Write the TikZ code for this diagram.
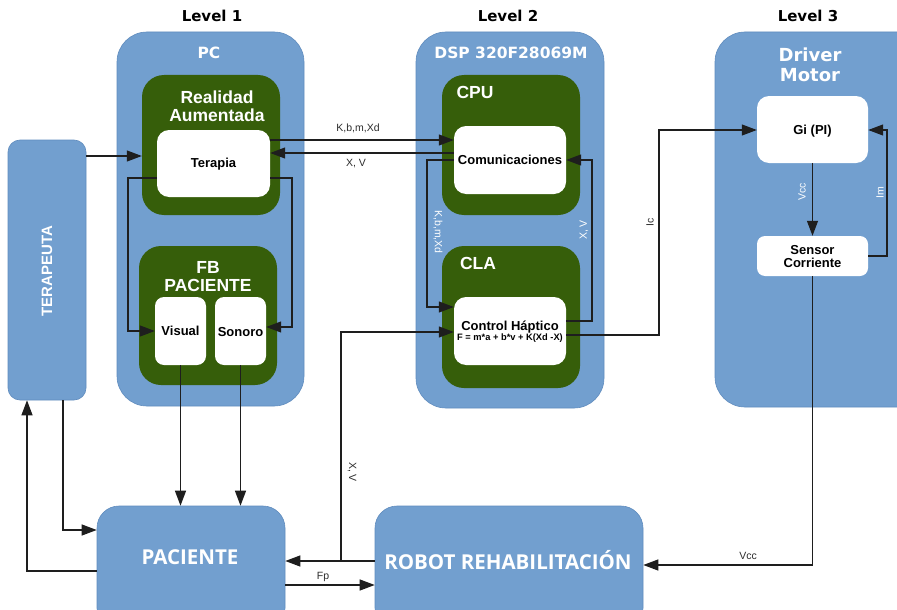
\documentclass[tikz,border=0pt]{standalone}
\usepackage{fontspec}
\setmainfont{Liberation Sans}
\newfontfamily\widefont{DejaVu Sans}
\newfontfamily\openfont{Open Sans}
\usetikzlibrary{arrows.meta}

\definecolor{panelblue}{RGB}{114,159,207}
\definecolor{paneledge}{RGB}{96,140,190}
\definecolor{leafgreen}{RGB}{54,94,10}
\definecolor{wire}{RGB}{30,30,30}
\definecolor{tagtext}{RGB}{45,45,45}

\begin{document}
\begin{tikzpicture}[x=1pt,y=-1pt,
  panel/.style={draw=paneledge, line width=0.6pt, fill=panelblue,
    rounded corners=#1, inner sep=0pt},
  panel/.default=28pt,
  group/.style={fill=leafgreen, rounded corners=22pt, inner sep=0pt},
  block/.style={fill=white, rounded corners=12pt, inner sep=0pt},
  leveltxt/.style={font=\widefont\bfseries\fontsize{15}{18}\selectfont, text=black},
  paneltitle/.style={font=\widefont\bfseries\fontsize{15.5}{19}\selectfont, text=white, align=center},
  grouptitle/.style={font=\bfseries\fontsize{17.5}{19}\selectfont, text=white, align=center},
  blocktxt/.style={font=\bfseries\fontsize{13}{13}\selectfont, text=black, align=center},
  bigtxt/.style={font=\openfont\bfseries\fontsize{20.5}{22}\selectfont, text=white},
  tag/.style={font=\fontsize{10.5}{11}\selectfont, text=tagtext, inner sep=1pt},
  wtag/.style={font=\fontsize{10.5}{11}\selectfont, text=white, inner sep=1pt},
  arr/.style={draw=wire, line width=1.2pt, -{Triangle[length=15pt,width=11pt]}},
]
\useasboundingbox (0,0) rectangle (897,610);
\clip (0,0) rectangle (897,610);
\fill[white] (0,0) rectangle (897,610);

% column headings
\node[leveltxt] (lv1) at (212,16) {Level 1};
\node[leveltxt] (lv2) at (508,16) {Level 2};
\node[leveltxt] (lv3) at (808,16) {Level 3};

% Level 1: PC
\node[panel=30pt, minimum width=187pt, minimum height=374pt] (pc) at (210.5,219) {};
\node[paneltitle] (pct) at (209,53) {PC};
\node[group, minimum width=138pt, minimum height=140pt] (ra) at (211,145) {};
\node[grouptitle] (rat) at (217,106) {Realidad\\[-1pt]Aumentada};
\node[block, minimum width=113pt, minimum height=67pt] (terapia) at (213.5,163.5) {};
\node[blocktxt] (terapiat) at (213.5,164) {Terapia};
\node[group, minimum width=138pt, minimum height=139pt] (fb) at (208,315.5) {};
\node[grouptitle] (fbt) at (208,277) {FB\\[-1pt]PACIENTE};
\node[block, rounded corners=9pt, minimum width=51pt, minimum height=68pt] (visual) at (180.5,331) {};
\node[blocktxt] (visualt) at (180.5,331) {Visual};
\node[block, rounded corners=9pt, minimum width=51pt, minimum height=68pt] (sonoro) at (240.5,331) {};
\node[blocktxt] (sonorot) at (240.5,332) {Sonoro};

% therapist
\node[panel=12pt, minimum width=78pt, minimum height=260pt] (terapeuta) at (47,270) {};
\node[font=\bfseries\fontsize{15}{15}\selectfont, text=white, rotate=90] (terapeutat) at (47,271) {TERAPEUTA};

% Level 2: DSP
\node[panel=30pt, minimum width=188pt, minimum height=376pt] (dsp) at (510,220) {};
\node[paneltitle] (dspt) at (511,53) {DSP 320F28069M};
\node[group, minimum width=138pt, minimum height=140pt] (cpu) at (511,145) {};
\node[grouptitle] (cput) at (475,92) {CPU};
\node[block, minimum width=112pt, minimum height=68pt] (comun) at (510,160) {};
\node[blocktxt] (comunt) at (510,160) {Comunicaciones};
\node[group, minimum width=138pt, minimum height=142pt] (cla) at (511,317) {};
\node[grouptitle] (clat) at (478,263) {CLA};
\node[block, minimum width=112pt, minimum height=68pt] (control) at (510,331) {};
\node[blocktxt] (controlt) at (510,327) {Control Háptico};
\node[font=\bfseries\fontsize{9.3}{10}\selectfont, text=black] (formula) at (510,338.5) {F = m*a + b*v + K(Xd -X)};

% Level 3: motor driver
\node[panel=30pt, minimum width=215pt, minimum height=375pt] (driver) at (822.5,219.5) {};
\node[paneltitle, font=\widefont\bfseries\fontsize{18}{20}\selectfont] (drivert) at (810,65) {Driver\\Motor};
\node[block, minimum width=111pt, minimum height=67pt] (gi) at (812.5,129.5) {};
\node[blocktxt] (git) at (812.5,131) {Gi (PI)};
\node[block, rounded corners=8pt, minimum width=111pt, minimum height=40pt] (sensor) at (812.5,256) {};
\node[blocktxt] (sensort) at (812.5,256.5) {Sensor\\Corriente};

% bottom row
\node[panel=22pt, minimum width=188pt, minimum height=124pt] (paciente) at (191,568) {};
\node[bigtxt] (pacientet) at (190,557) {PACIENTE};
\node[panel=22pt, minimum width=268pt, minimum height=124pt] (robot) at (509,568) {};
\node[bigtxt] (robott) at (508,560) {ROBOT REHABILITACIÓN};

% PC connections
\draw[arr] (terapeuta.east |- 0,156) -- (ra.west |- 0,156);
\draw[arr] (terapia.east |- 0,140) -- (comun.west |- 0,140);
\node[tag] (kbm1) at (358,128) {K,b,m,Xd};
\draw[arr] (comun.west |- 0,153) -- (terapia.east |- 0,153);
\node[tag] (xv1) at (356,164) {X, V};
\draw[arr] (terapia.west |- 0,178) -- (128,178) |- (visual.west);
\draw[arr] (terapia.east |- 0,178) -- (292,178) |- (sonoro.east |- 0,327);

% DSP connections
\draw[arr] (comun.west |- 0,160) -- (427,160) |- (control.west |- 0,307);
\node[wtag, rotate=-90] (kbm2) at (438,232) {K,b,m,Xd};
\draw[arr] (control.east |- 0,321) -- (592,321) |- (comun.east |- 0,160);
\node[wtag, rotate=90] (xv2) at (584,230) {X, V};
\draw[arr] (control.east |- 0,335) -- (659,335) |- (gi.west |- 0,130);
\node[tag, rotate=90] (ic) at (650,222) {Ic};

% driver connections
\draw[arr] (gi.south) -- (sensor.north);
\node[wtag, rotate=90] (vcc1) at (802,192) {Vcc};
\draw[arr] (sensor.east) -- (887,256) |- (gi.east |- 0,130);
\node[wtag, rotate=90] (im) at (880,193) {Im};
\draw[arr] (sensor.south) |- (robot.east |- 0,565);
\node[tag] (vcc2) at (748,556) {Vcc};

% patient loop
\draw[arr] (visual.south) -- (visual.south |- paciente.north);
\draw[arr] (sonoro.south) -- (sonoro.south |- paciente.north);
\draw[arr] (terapeuta.south -| 63,0) |- (paciente.west |- 0,530);
\draw[arr] (paciente.west |- 0,571) -| (terapeuta.south -| 27,0);
\draw[arr] (robot.west |- 0,561) -- (paciente.east |- 0,561);
\coordinate (split) at (341,561);
\draw[arr] (split) |- (control.west |- 0,332);
\node[tag, rotate=-90] (xv3) at (352,472) {X, V};
\draw[arr] (paciente.east |- 0,585) -- (robot.west |- 0,585);
\node[tag] (fp) at (323,577) {Fp};
\end{tikzpicture}
\end{document}
